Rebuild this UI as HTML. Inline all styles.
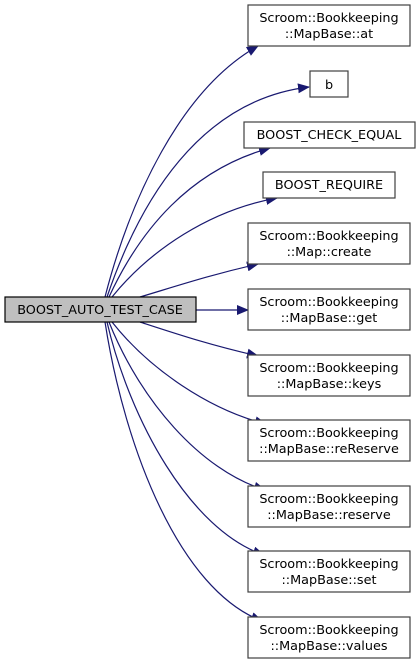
<!DOCTYPE html>
<html><head><style>
html,body{margin:0;padding:0;background:#fff;}
svg{display:block;}
text{font-family:"DejaVu Sans","Liberation Sans",sans-serif;font-size:12.8px;fill:#000;}
</style></head><body>
<svg width="420" height="663" viewBox="0 0 420 663" xmlns="http://www.w3.org/2000/svg">
<defs><marker id="a" markerWidth="12" markerHeight="10" refX="11" refY="5" orient="auto" markerUnits="userSpaceOnUse"><path d="M0,0 L12,5 L0,10 z" fill="#191970"/></marker></defs>
<g fill="none" stroke="#191970" stroke-width="1.2" marker-end="url(#a)">
<path d="M105,297 C130,200 180,90 258,46"/>
<path d="M107,297 C140,200 200,100 309,87"/>
<path d="M109,297 C140,230 190,170 270,148"/>
<path d="M112,297 C150,250 210,210 277,198"/>
<path d="M140,297 C180,285 210,275 258,264"/>
<path d="M196,310 L248,310"/>
<path d="M140,322 C180,335 210,345 258,356"/>
<path d="M112,322 C150,370 210,410 266,424"/>
<path d="M109,322 C140,400 200,470 265,490"/>
<path d="M107,322 C130,420 190,530 264,555"/>
<path d="M105,322 C125,450 180,590 262,621"/>
</g>
<g fill="#fff" stroke="#404040" stroke-width="1.2">
<rect x="5" y="297" width="191" height="25" fill="#bfbfbf" stroke="#000"/>
<rect x="248" y="5" width="162" height="41"/>
<rect x="310" y="71" width="38" height="26"/>
<rect x="244" y="122" width="171" height="26"/>
<rect x="263" y="172" width="132" height="26"/>
<rect x="248" y="223" width="162" height="41"/>
<rect x="248" y="289" width="162" height="41"/>
<rect x="248" y="355" width="162" height="41"/>
<rect x="248" y="420" width="162" height="41"/>
<rect x="248" y="486" width="162" height="41"/>
<rect x="248" y="551" width="162" height="41"/>
<rect x="248" y="617" width="162" height="41"/>
</g>
<g text-anchor="middle">
<text x="100" y="314">BOOST_AUTO_TEST_CASE</text>
<text x="329" y="22">Scroom::Bookkeeping</text><text x="329" y="38">::MapBase::at</text>
<text x="329" y="89">b</text>
<text x="329" y="139">BOOST_CHECK_EQUAL</text>
<text x="329" y="189">BOOST_REQUIRE</text>
<text x="329" y="240">Scroom::Bookkeeping</text><text x="329" y="256">::Map::create</text>
<text x="329" y="306">Scroom::Bookkeeping</text><text x="329" y="322">::MapBase::get</text>
<text x="329" y="372">Scroom::Bookkeeping</text><text x="329" y="388">::MapBase::keys</text>
<text x="329" y="437">Scroom::Bookkeeping</text><text x="329" y="453">::MapBase::reReserve</text>
<text x="329" y="503">Scroom::Bookkeeping</text><text x="329" y="519">::MapBase::reserve</text>
<text x="329" y="568">Scroom::Bookkeeping</text><text x="329" y="584">::MapBase::set</text>
<text x="329" y="634">Scroom::Bookkeeping</text><text x="329" y="650">::MapBase::values</text>
</g>
</svg>
</body></html>
